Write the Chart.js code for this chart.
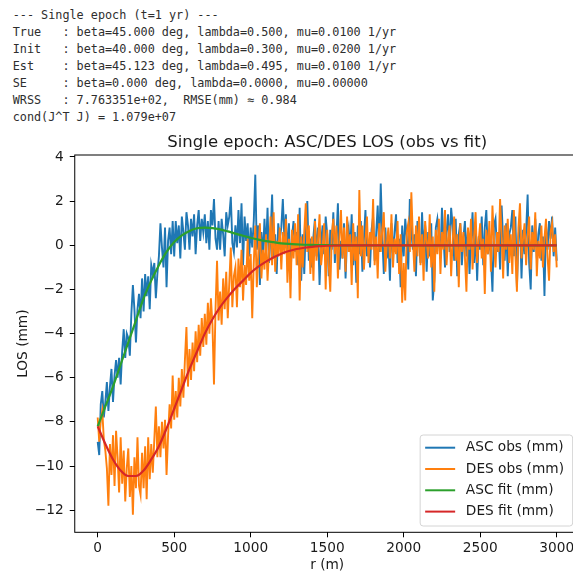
<!DOCTYPE html>
<html>
<head>
<meta charset="utf-8">
<script src="https://cdn.jsdelivr.net/npm/chart.js@4.4.1/dist/chart.umd.min.js"></script>
<style>
  body { margin: 0; background: #fff; width: 573px; height: 578px; overflow: hidden; position: relative; }
  #saida { position: absolute; left: 12.7px; top: 6.5px; margin: 0; font: 11.8px/17.05px "DejaVu Sans Mono", monospace; color: #2e2e2e; }
  #caixa { position: absolute; left: 0; top: 120px; width: 600px; height: 458px; }
</style>
</head>
<body>
<pre id="saida">--- Single epoch (t=1 yr) ---
True   : beta=45.000 deg, lambda=0.500, mu=0.0100 1/yr
Init   : beta=40.000 deg, lambda=0.300, mu=0.0200 1/yr
Est    : beta=45.123 deg, lambda=0.495, mu=0.0100 1/yr
SE     : beta=0.000 deg, lambda=0.0000, mu=0.00000
WRSS   : 7.763351e+02,  RMSE(mm) ≈ 0.984
cond(J^T J) = 1.079e+07</pre>
<div id="caixa"><canvas id="grafico"></canvas></div>
<script>
// observations every 10 m, r = 0 .. 3000
const passo_r = 10;

const asc_obs = [
  -8.9, -9.5, -7.2, -6.6, -7.8, -7.1, -6.2, -7.5, -6.4, -5.6,   // 0
  -7.1, -5.9, -5.2, -6.0, -5.1, -6.3, -4.8, -3.8, -5.1, -4.0,   // 100
  -4.2, -5.0, -3.1, -1.8, -2.9, -4.4, -2.9, -2.2, -3.3, -1.5,   // 200
  -3.0, -1.3, -2.3, -1.4, -2.9, -0.9, -1.3, -0.8, -2.4, -1.3,   // 300
  -0.5, 1.0, -0.1, -1.0, 0.8, -1.9, 0.2, 0.8, -0.4, 1.1,        // 400
  -0.5, 1.1, 0.1, 0.9, -0.6, 1.3, 0.6, -0.2, 1.5, 0.9,          // 500
  -0.2, 1.2, 0.4, 1.4, -0.4, 0.9, 1.6, 0.2, 1.2, 0.6,           // 600
  1.4, 0.1, 1.1, -0.2, 1.6, 0.9, 2.1, 0.3, -0.2, 1.1,           // 700
  -0.2, 1.2, 0.5, -0.5, 1.5, 0.9, 1.3, 2.2, 0.1, -0.3,          // 800
  0.9, -0.1, 1.6, 0.1, 1.9, -0.9, 1.3, 0.2, 1.0, -0.5,          // 900
  0.8, -0.1, 1.1, 3.2, -0.2, 0.9, -1.8, 0.6, -0.5, 1.2,         // 1000
  -0.3, 1.7, -0.8, 0.5, 2.3, -0.6, 0.5, -1.3, 1.0, 0.3,         // 1100
  0.8, 2.1, 0.3, 1.4, -0.5, 1.0, -1.5, 0.4, 1.1, -0.3,          // 1200
  0.6, -0.9, 1.7, -1.6, 0.5, -1.3, 0.9, 2.0, -0.7, 0.3,         // 1300
  -1.0, 0.4, 1.2, -0.5, 0.8, -1.8, 0.1, 0.9, -0.4, 1.3,         // 1400
  0.5, -1.4, 0.7, -0.2, 1.5, -0.8, 0.3, 1.9, -1.1, 0.2,         // 1500
  -0.6, 1.0, -1.5, 0.4, 0.8, -0.3, 1.4, -0.9, 0.6, -1.7,        // 1600
  0.9, -0.4, 1.1, -1.2, 0.3, 1.6, -0.5, 0.2, -1.0, 0.7,         // 1700
  1.3, -0.7, 0.5, 1.8, -0.3, 2.8, 0.4, -1.3, 0.8, -0.6,         // 1800
  0.2, -1.6, 1.0, -0.4, 0.6, 1.4, -0.8, 0.3, -1.9, 0.9,         // 1900
  -0.5, 1.2, 0.4, -1.1, 2.1, 0.6, -0.2, 0.5, -1.4, 1.1,         // 2000
  0.3, -0.8, 1.5, -0.3, 0.9, -1.2, 0.6, -0.5, 1.0, -2.5,        // 2100
  -1.6, 0.8, 1.2, 0.4, -0.6, 1.7, 0.4, -1.0, 0.6, 1.4,          // 2200
  -0.3, 1.7, 0.9, -0.7, 1.2, -1.4, 0.5, 1.0, -0.9, 0.3,         // 2300
  1.1, -0.5, 0.7, -1.3, 0.2, 1.5, -0.8, 0.6, -1.6, 0.4,         // 2400
  -0.2, 1.3, -0.9, 0.8, 1.6, -0.4, 0.3, -0.5, -2.1, 0.9,        // 2500
  1.2, -0.3, 0.6, -1.1, 1.8, 0.2, -0.7, 1.0, -1.4, 0.5,         // 2600
  0.8, 1.6, -0.5, 1.3, -1.9, 0.4, 1.1, -1.5, 0.7, -0.4,         // 2700
  0.6, 2.3, -0.8, -2.0, 0.9, -0.3, 1.2, -0.6, 0.5, 1.0,         // 2800
  -0.7, 0.4, -2.3, 0.9, -0.2, 1.1, 0.3, 1.3, -0.5, 0.8,         // 2900
  -0.7                                                          // 3000
];

const des_obs = [
  -7.8, -8.9, -7.9, -7.5, -8.8, -9.3, -10.1, -11.8, -9.0, -10.4,   // 0
  -8.6, -10.9, -8.4, -9.6, -11.2, -8.7, -10.8, -9.3, -11.6, -10.1, // 100
  -9.2, -11.4, -10.0, -12.2, -9.6, -11.0, -8.7, -10.9, -11.3, -9.4,// 200
  -11.0, -9.1, -11.5, -8.7, -10.6, -9.0, -10.3, -8.8, -7.3, -9.6,  // 300
  -8.2, -9.6, -8.0, -9.2, -7.9, -10.4, -8.6, -7.2, -8.3, -5.9,     // 400
  -7.9, -6.6, -7.8, -6.0, -7.3, -5.6, -6.9, -5.2, -3.7, -6.4,      // 500
  -4.7, -6.1, -4.4, -5.7, -3.9, -5.3, -3.6, -5.0, -3.3, -4.6,      // 600
  -3.1, -4.5, -2.6, -4.0, -2.4, -3.6, -6.3, -2.9, -0.7, -3.4,      // 700
  -2.1, -3.6, -1.5, -2.9, -1.2, -3.3, -1.7, -0.1, -2.8, -1.4,      // 800
  -1.0, -2.8, -0.6, -1.9, -0.2, -2.5, -0.9, -1.8, 0.3, -1.6,       // 900
  -0.4, -3.3, -0.8, 0.9, -1.9, -0.3, 1.0, -1.5, -0.2, -1.1,        // 1000
  0.5, -1.6, -0.2, 1.3, -0.9, 1.5, -1.2, 0.2, -0.5, 0.8,           // 1100
  -1.1, 0.6, -0.4, 1.2, -1.7, 0.3, -2.4, 0.7, -0.6, 1.0,           // 1200
  -0.9, 1.4, -2.5, 0.4, -1.0, 0.6, 1.9, -0.3, 0.9, -1.3,           // 1300
  0.4, -1.6, 1.1, -0.7, 0.2, 1.4, -0.9, -0.2, 1.0, -2.0,           // 1400
  0.7, -0.8, -2.1, 0.5, 1.2, -0.4, 0.9, -1.5, 0.3, 1.6,            // 1500
  -0.6, 0.8, -1.2, 1.3, -0.3, 0.5, -1.8, 1.0, -0.7, 0.4,           // 1600
  -2.4, 2.5, -0.5, 0.9, -1.1, 0.2, 1.3, -0.8, 0.6, -0.2,           // 1700
  2.1, -0.9, 0.4, -1.5, 1.0, -0.3, 0.7, 1.5, -1.2, 0.1,            // 1800
  0.8, -0.6, 1.4, -1.0, 0.3, -0.4, 1.1, -1.3, 0.5, -2.6,           // 1900
  -0.8, -2.5, 0.6, 1.0, -0.3, 2.4, 0.3, -1.2, 0.9, -0.5,           // 2000
  1.3, -0.9, 0.5, -1.6, 1.1, 0.2, -0.6, 1.4, -1.0, 0.4,            // 2100
  -2.1, 0.7, -0.4, 1.2, -1.3, 0.6, -0.2, 1.6, -0.9, 0.3,           // 2200
  0.9, -1.4, 0.2, 1.3, -0.7, 0.5, -1.9, 1.0, -0.3, 0.6,            // 2300
  -0.5, -2.1, 0.8, -0.2, 1.2, -1.1, 0.4, 1.5, -0.8, 0.2,           // 2400
  1.0, -0.6, 0.3, -2.2, 0.7, -0.4, 1.1, -1.2, 1.8, 0.2,            // 2500
  -1.0, 0.6, -0.3, 2.1, 0.4, -1.5, 0.9, -0.2, 1.2, -0.8,           // 2600
  0.5, -1.3, 1.6, -0.4, -2.1, 0.8, 1.9, -0.6, 0.3, 1.0,            // 2700
  -0.9, 0.4, 1.3, -1.1, 0.6, -0.2, 1.5, -1.4, 0.2, -0.6,           // 2800
  0.9, -1.0, 0.3, 1.2, -0.5, -1.6, 0.6, 1.0, -0.3, 0.5,            // 2900
  -1.0                                                             // 3000
];

// fitted model curves
const r_fit = [0, 50, 100, 150, 200, 250, 300, 350, 400, 450, 500, 550, 600, 650, 700, 750,
  800, 850, 900, 950, 1000, 1050, 1100, 1150, 1200, 1250, 1300, 1350, 1400, 1450, 1500,
  1600, 2000, 2500, 3000];
const asc_fit = [-8.2, -7.3, -6.4, -5.4, -4.4, -3.4, -2.4, -1.6, -0.9, -0.3, 0.15, 0.45, 0.65, 0.77, 0.8, 0.78,
  0.72, 0.63, 0.53, 0.43, 0.34, 0.26, 0.19, 0.14, 0.09, 0.06, 0.04, 0.025, 0.015, 0.01, 0.005,
  0, 0, 0, 0];
const des_fit = [-8.2, -9.0, -9.7, -10.2, -10.45, -10.45, -10.2, -9.7, -9.1, -8.3, -7.4, -6.5, -5.6, -4.8, -4.0, -3.35,
  -2.8, -2.35, -1.95, -1.6, -1.25, -0.97, -0.74, -0.54, -0.38, -0.26, -0.17, -0.11, -0.07, -0.04, -0.02,
  -0.005, 0, 0, 0];

const x_ticks = [0, 500, 1000, 1500, 2000, 2500, 3000];
const y_ticks = [-12, -10, -8, -6, -4, -2, 0, 2, 4];

const fonte = { family: 'DejaVu Sans', size: 13.7 };

function pontos(rs, vs) {
  return vs.map((v, i) => ({ x: rs[i], y: v }));
}

function rotulo(v) {
  // unicode minus like matplotlib
  return v < 0 ? '\u2212' + Math.abs(v) : String(v);
}

const r_obs = asc_obs.map((_, i) => i * passo_r);

// box around the plot area
const moldura = {
  id: 'moldura',
  afterDatasetsDraw(chart) {
    const { ctx, chartArea: a } = chart;
    ctx.save();
    ctx.strokeStyle = '#000';
    ctx.lineWidth = 1;
    ctx.strokeRect(a.left, a.top, a.right - a.left, a.bottom - a.top);
    ctx.restore();
  }
};

// legend in the lower right corner of the axes
const legenda = {
  id: 'legenda',
  afterDraw(chart) {
    const { ctx, chartArea: a } = chart;
    const w = 152.5, h = 91;
    const x0 = a.right - 7 - w;
    const y0 = a.bottom - 6.3 - h;
    ctx.save();
    ctx.beginPath();
    ctx.roundRect(x0, y0, w, h, 3);
    ctx.fillStyle = 'rgba(255,255,255,0.8)';
    ctx.fill();
    ctx.strokeStyle = '#d4d4d4';
    ctx.lineWidth = 1;
    ctx.stroke();
    ctx.font = fonte.size + 'px "' + fonte.family + '"';
    ctx.textBaseline = 'middle';
    chart.data.datasets.forEach((ds, i) => {
      const y = y0 + 12.7 + i * 21.3;
      ctx.strokeStyle = ds.borderColor;
      ctx.lineWidth = 2;
      ctx.beginPath();
      ctx.moveTo(x0 + 5, y);
      ctx.lineTo(x0 + 35, y);
      ctx.stroke();
      ctx.fillStyle = '#1a1a1a';
      ctx.fillText(ds.label, x0 + 45.7, y);
    });
    ctx.restore();
  }
};

const grafico = new Chart(document.getElementById('grafico'), {
  type: 'line',
  data: {
    datasets: [
      { label: 'ASC obs (mm)', data: pontos(r_obs, asc_obs), borderColor: '#1f77b4', borderWidth: 1.9, order: 4 },
      { label: 'DES obs (mm)', data: pontos(r_obs, des_obs), borderColor: '#ff7f0e', borderWidth: 1.9, order: 3 },
      { label: 'ASC fit (mm)', data: pontos(r_fit, asc_fit), borderColor: '#2ca02c', borderWidth: 2.2, cubicInterpolationMode: 'monotone', order: 2 },
      { label: 'DES fit (mm)', data: pontos(r_fit, des_fit), borderColor: '#d62728', borderWidth: 2.2, cubicInterpolationMode: 'monotone', order: 1 }
    ]
  },
  options: {
    responsive: true,
    maintainAspectRatio: false,
    animation: false,
    elements: { point: { radius: 0 }, line: { fill: false } },
    layout: { padding: { left: 15, right: 20.35, top: 0, bottom: 4.8 } },
    scales: {
      x: {
        type: 'linear', min: -150, max: 3150,
        afterBuildTicks: s => { s.ticks = x_ticks.map(v => ({ value: v })); },
        afterFit: s => { s.height = 40.9; },
        grid: { drawOnChartArea: false, drawTicks: true, tickLength: 5, color: '#000', lineWidth: 1 },
        border: { display: false },
        ticks: { color: '#1a1a1a', font: fonte, padding: 3, maxRotation: 0, autoSkip: false, callback: rotulo },
        title: { display: true, text: 'r (m)', color: '#1a1a1a', font: fonte, padding: 0 }
      },
      y: {
        type: 'linear', min: -13.0, max: 4.09,
        afterBuildTicks: s => { s.ticks = y_ticks.map(v => ({ value: v })); },
        afterFit: s => { s.width = 59.75; },
        grid: { drawOnChartArea: false, drawTicks: true, tickLength: 5, color: '#000', lineWidth: 1 },
        border: { display: false },
        ticks: { color: '#1a1a1a', font: fonte, padding: 6, autoSkip: false, callback: rotulo },
        title: { display: true, text: 'LOS (mm)', color: '#1a1a1a', font: fonte, padding: 0 }
      }
    },
    plugins: {
      legend: { display: false },
      tooltip: { enabled: false },
      title: {
        display: true,
        fullSize: false,
        text: 'Single epoch: ASC/DES LOS (obs vs fit)',
        color: '#1a1a1a',
        font: { family: 'DejaVu Sans', size: 16.5, weight: 'normal' },
        padding: { top: 13.1, bottom: 2.1 }
      }
    }
  },
  plugins: [moldura, legenda]
});
</script>
</body>
</html>
